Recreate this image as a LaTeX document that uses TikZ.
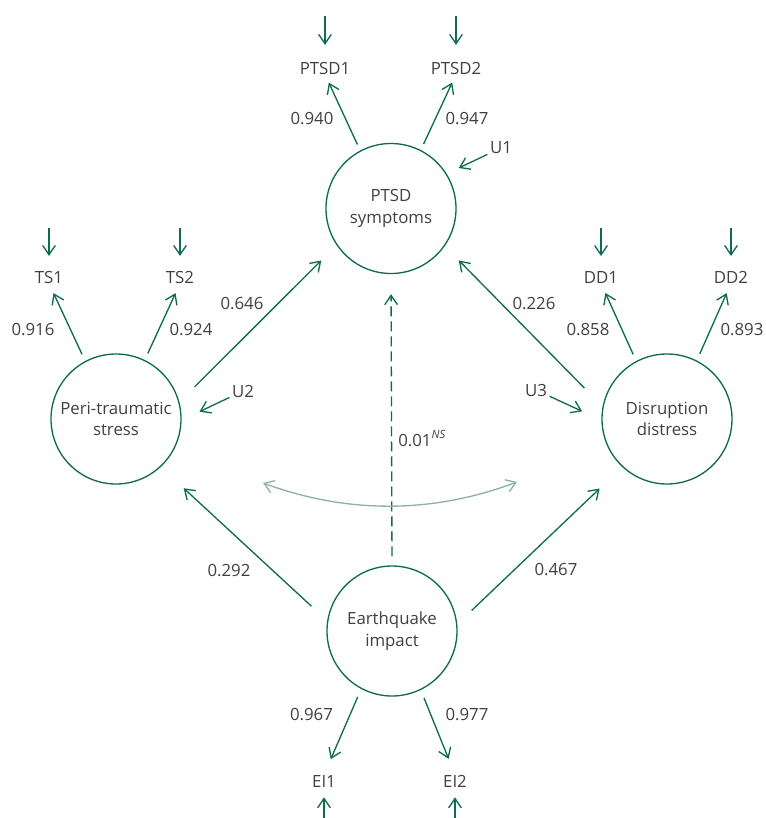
\documentclass[tikz,border=0pt]{standalone}
\usepackage{fontspec}
\setmainfont{Open Sans}
\usetikzlibrary{arrows.meta}
\definecolor{sgreen}{HTML}{0F6B4F}
\definecolor{lgreen}{HTML}{8DB2A5}
\definecolor{tgray}{HTML}{404040}
\begin{document}
\begin{tikzpicture}[x=0.75pt,y=-0.75pt,
  latent/.style={circle,draw=sgreen,line width=1pt,minimum size=97.5pt,inner sep=0pt,align=center,text=tgray,font=\fontsize{12.6}{16.2}\selectfont},
  obs/.style={text=tgray,font=\fontsize{12.6}{15}\selectfont,inner sep=0pt},
  coef/.style={text=tgray,font=\fontsize{12.6}{15}\selectfont,inner sep=0pt},
  arr/.style={draw=sgreen,line width=1pt,-{Straight Barb[length=7pt,width=9.5pt]}},
  corr/.style={draw=lgreen,line width=1pt,{Straight Barb[length=7pt,width=9.5pt]}-{Straight Barb[length=7pt,width=9.5pt]}},
]
\useasboundingbox (0,0) rectangle (766,818);

% latent variables
\node[latent] (ptsd) at (391,208.5) {PTSD\\symptoms};
\node[latent] (peri) at (116,419) {Peri-traumatic\\stress};
\node[latent] (dis) at (667,419) {Disruption\\distress};
\node[latent] (eq) at (392,631) {Earthquake\\impact};

% indicators
\node[obs] (p1) at (325,68) {PTSD1};
\node[obs] (p2) at (456,68) {PTSD2};
\node[obs] (t1) at (49,277) {TS1};
\node[obs] (t2) at (180,277) {TS2};
\node[obs] (d1) at (601,277) {DD1};
\node[obs] (d2) at (731,277) {DD2};
\node[obs] (e1) at (324,781) {EI1};
\node[obs] (e2) at (455,781) {EI2};

% disturbances
\node[obs] (u1) at (501,148) {U1};
\node[obs] (u2) at (243,391) {U2};
\node[obs] (u3) at (536,390) {U3};

% error terms
\coordinate (ep1) at (325,16);
\coordinate (ep2) at (456,16);
\coordinate (et1) at (49,228);
\coordinate (et2) at (180,228);
\coordinate (ed1) at (601,228);
\coordinate (ed2) at (731,228);
\coordinate (ee1) at (324,818);
\coordinate (ee2) at (455,818);
\draw[arr,shorten >=12.5pt] (ep1) -- (p1.north);
\draw[arr,shorten >=12.5pt] (ep2) -- (p2.north);
\draw[arr,shorten >=11pt] (et1) -- (t1.north);
\draw[arr,shorten >=11pt] (et2) -- (t2.north);
\draw[arr,shorten >=11pt] (ed1) -- (d1.north);
\draw[arr,shorten >=11pt] (ed2) -- (d2.north);
\draw[arr,shorten >=7.5pt] (ee1) -- (e1.south);
\draw[arr,shorten >=7.5pt] (ee2) -- (e2.south);

% loadings
\draw[arr,shorten <=5pt,shorten >=6.75pt] (ptsd.118.5) -- (p1.south);
\draw[arr,shorten <=5pt,shorten >=6.75pt] (ptsd.63) -- (p2.south);
\draw[arr,shorten <=5.5pt,shorten >=8pt] (peri.118) -- (t1.south);
\draw[arr,shorten <=5.5pt,shorten >=8pt] (peri.64) -- (t2.south);
\draw[arr,shorten <=5.5pt,shorten >=8pt] (dis.118) -- (d1.south);
\draw[arr,shorten <=5.5pt,shorten >=8pt] (dis.63.4) -- (d2.south);
\draw[arr,shorten <=6.5pt,shorten >=12.75pt] (eq.-118.3) -- (e1.north);
\draw[arr,shorten <=6.5pt,shorten >=12.75pt] (eq.-64.5) -- (e2.north);

% disturbance arrows
\draw[arr,shorten <=2pt,shorten >=10pt] (u1) -- (ptsd.32);
\draw[arr,shorten <=2pt,shorten >=14.8pt] (u2) -- (peri.-1);
\draw[arr,shorten <=2pt,shorten >=15.8pt] (u3) -- (dis.181.7);

% structural paths
\draw[arr,shorten <=16.1pt,shorten >=16.2pt] (peri.15) -- (ptsd.214);
\draw[arr,shorten <=19.4pt,shorten >=15pt] (dis.169) -- (ptsd.-35.5);
\draw[arr,shorten <=16.1pt,shorten >=23.4pt] (eq.171) -- (peri.-47.5);
\draw[arr,shorten <=14.9pt,shorten >=23.4pt] (eq.6.5) -- (dis.227);
\draw[arr,dash pattern=on 7.5pt off 3.75pt,shorten <=6.75pt,shorten >=15pt] (eq.90) -- (ptsd.-90);

% correlation
\coordinate (cl) at (263,483);
\coordinate (c1) at (347.7,514);
\coordinate (c2) at (432.3,513.7);
\coordinate (cr) at (517,482);
\draw[corr] (cl) .. controls (c1) and (c2) .. (cr);

% coefficients
\node[coef] (l1) at (312,119) {0.940};
\node[coef] (l2) at (467,119) {0.947};
\node[coef] (l3) at (33,330) {0.916};
\node[coef] (l4) at (191,330) {0.924};
\node[coef] (l5) at (242,304) {0.646};
\node[coef] (l6) at (588,330) {0.858};
\node[coef] (l7) at (742,330) {0.893};
\node[coef] (l8) at (534,304) {0.226};
\node[coef,anchor=base west] (l9) at (398,446) {0.01\raisebox{5.5pt}{\fontsize{8.5}{10}\selectfont\itshape NS}};
\node[coef] (l10) at (229,570.5) {0.292};
\node[coef] (l11) at (556,569.5) {0.467};
\node[coef] (l12) at (311.5,715) {0.967};
\node[coef] (l13) at (467,715) {0.977};
\end{tikzpicture}
\end{document}
